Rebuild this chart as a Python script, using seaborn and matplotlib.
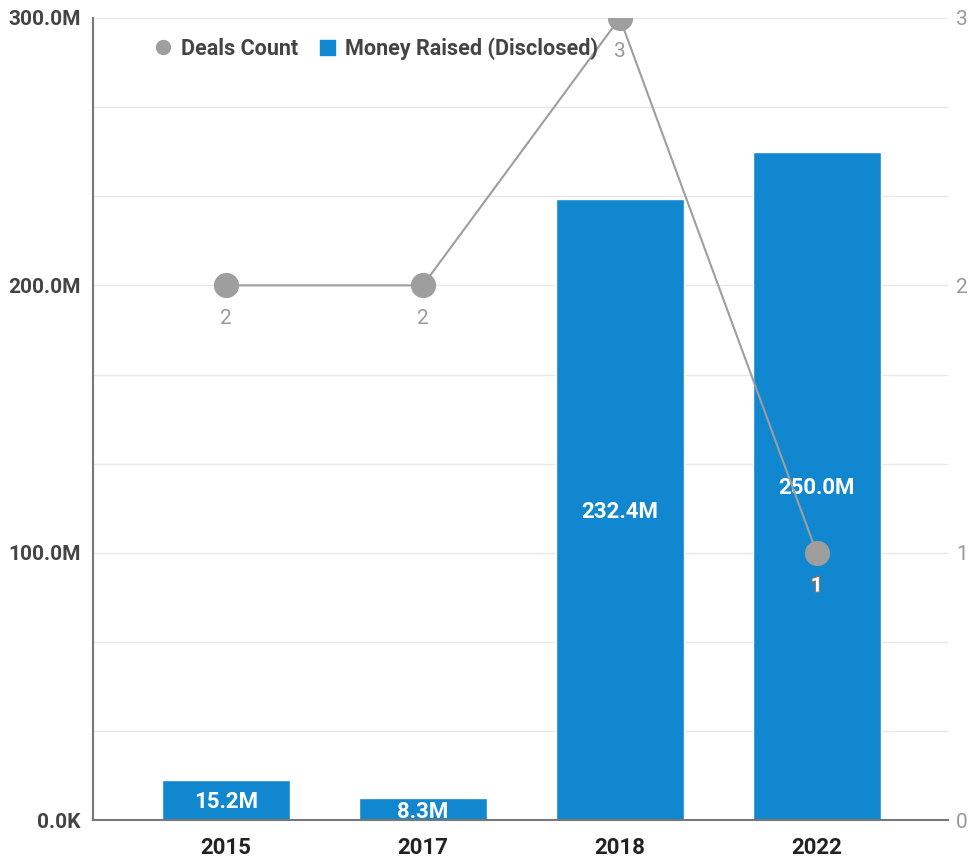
import matplotlib
matplotlib.use("Agg")
import matplotlib.pyplot as plt
import matplotlib.patheffects as pe
from matplotlib.lines import Line2D
from matplotlib.patches import Patch
import seaborn as sns
import pandas as pd
import numpy as np

# Funding data by year
years = ["2015", "2017", "2018", "2022"]
money_raised_m = [15.2, 8.3, 232.4, 250.0]
deals_count = [2, 2, 3, 1]
money_labels = ["15.2M", "8.3M", "232.4M", "250.0M"]
left_ticks = [0, 100, 200, 300]
left_tick_labels = ["0.0K", "100.0M", "200.0M", "300.0M"]
right_ticks = [0, 1, 2, 3]

BLUE = "#1187cf"
GREY = "#9e9e9e"

sns.set_theme(style="white")
plt.rcParams["font.family"] = ["Roboto", "DejaVu Sans"]

df = pd.DataFrame({"year": years, "money": money_raised_m, "deals": deals_count})

fig = plt.figure(figsize=(9.69, 8.57), dpi=100)
ax = fig.add_axes([0.096, 0.043, 0.882, 0.936])

sns.barplot(data=df, x="year", y="money", color=BLUE, saturation=1,
            width=0.65, ax=ax, zorder=2)
ax.set_xlim(-0.675, 3.665)
ax.set_ylim(0, 300)

# grid every third of 100M
grid_vals = np.arange(1, 10) * (300 / 9)
for g in grid_vals:
    ax.axhline(g, color="#e8e8e8", lw=1, zorder=0)

ax.set_yticks(left_ticks)
ax.set_yticklabels(left_tick_labels, fontsize=15, fontweight="bold", color="#444444")
ax.set_xticks(range(len(years)))
ax.set_xticklabels(years, fontsize=16, fontweight="bold", color="#222222")
ax.tick_params(axis="y", length=0, pad=9)
ax.tick_params(axis="x", length=0, pad=12)
ax.set_xlabel("")
ax.set_ylabel("")
for s in ["top", "right"]:
    ax.spines[s].set_visible(False)
ax.spines["left"].set_color("#777777")
ax.spines["bottom"].set_color("#777777")
ax.spines["left"].set_linewidth(1.5)
ax.spines["bottom"].set_linewidth(1.5)

for i, (v, lab) in enumerate(zip(money_raised_m, money_labels)):
    ax.text(i, v / 2, lab, ha="center", va="center_baseline", color="white",
            fontsize=16, fontweight="bold", zorder=3)

ax2 = ax.twinx()
sns.pointplot(data=df, x="year", y="deals", color=GREY, ax=ax2,
              markers="o", markersize=17, linewidth=1.5, zorder=4)
ax2.set_xlim(-0.675, 3.665)
ax2.set_ylim(0, 3)
ax2.set_yticks(right_ticks)
ax2.set_yticklabels([str(t) for t in right_ticks], fontsize=15, color="#999999")
ax2.tick_params(axis="y", length=0, pad=6)
ax2.set_ylabel("")
ax2.set_xlabel("")
for s in ax2.spines.values():
    s.set_visible(False)

for i, d in enumerate(deals_count):
    on_bar = d / 3 * 300 < money_raised_m[i]
    if on_bar:
        ax2.annotate(str(d), (i, d), xytext=(0, -24), textcoords="offset points",
                     ha="center", va="center", fontsize=15, color="white",
                     fontweight="bold", zorder=5, clip_on=False,
                     path_effects=[pe.withStroke(linewidth=2, foreground="#777777")])
    else:
        ax2.annotate(str(d), (i, d), xytext=(0, -24), textcoords="offset points",
                     ha="center", va="center", fontsize=15, color="#999999",
                     zorder=5, clip_on=False)

handles = [
    Line2D([0], [0], marker="o", color="none", markerfacecolor=GREY,
           markeredgecolor=GREY, markersize=10, label="Deals Count"),
    Patch(facecolor=BLUE, edgecolor=BLUE, label="Money Raised (Disclosed)"),
]
leg = ax2.legend(handles=handles, loc="upper left", bbox_to_anchor=(0.05, 1.0),
                 ncol=2, frameon=False, handlelength=0.7, handletextpad=0.5,
                 columnspacing=1.0, prop={"size": 15.5, "weight": "bold"})
for t in leg.get_texts():
    t.set_color("#444444")

fig.savefig("out.png", dpi=100)
